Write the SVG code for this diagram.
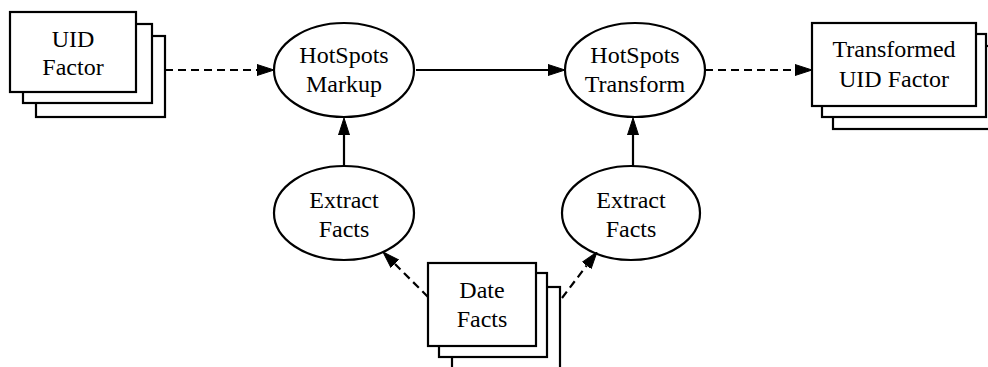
<svg xmlns="http://www.w3.org/2000/svg" width="988" height="367" viewBox="0 0 988 367">
<style>
.box{fill:#fff;stroke:#000;stroke-width:2.2}
.ell{fill:#fff;stroke:#000;stroke-width:2.2}
.lbl{font-family:"Liberation Serif","Times New Roman",serif;font-size:24px;fill:#000;text-anchor:middle}
.edge{fill:none;stroke:#000;stroke-width:2.2}
.dash{stroke-dasharray:8,5}
</style>
<defs>
<marker id="ah" viewBox="0 0 17 12" refX="0" refY="6" markerWidth="17" markerHeight="12" markerUnits="userSpaceOnUse" orient="auto">
<path d="M0,0.5 L17,6 L0,11.5 z" fill="#000" stroke="#000" stroke-width="1"/>
</marker>
</defs>
<rect width="988" height="367" fill="#fff"/>
<g id="uid-factor">
<rect class="box" x="36" y="36" width="129" height="81"/>
<rect class="box" x="23" y="24" width="129" height="79"/>
<rect class="box" x="10" y="12" width="126" height="80"/>
<text class="lbl" x="73" y="47">UID</text>
<text class="lbl" x="73" y="75">Factor</text>
</g>
<g id="hotspots-markup">
<ellipse class="ell" cx="344" cy="70" rx="70" ry="47"/>
<text class="lbl" x="344" y="63">HotSpots</text>
<text class="lbl" x="344" y="92">Markup</text>
</g>
<g id="hotspots-transform">
<ellipse class="ell" cx="635" cy="70" rx="70" ry="47"/>
<text class="lbl" x="635" y="63">HotSpots</text>
<text class="lbl" x="635" y="92">Transform</text>
</g>
<g id="transformed-uid-factor">
<rect class="box" x="833" y="46" width="164" height="83"/>
<rect class="box" x="822" y="34" width="164" height="83"/>
<rect class="box" x="812" y="23" width="164" height="83"/>
<text class="lbl" x="894" y="57">Transformed</text>
<text class="lbl" x="894" y="87">UID Factor</text>
</g>
<g id="extract-facts-left">
<ellipse class="ell" cx="344" cy="213" rx="70" ry="47"/>
<text class="lbl" x="344" y="208">Extract</text>
<text class="lbl" x="344" y="237">Facts</text>
</g>
<g id="extract-facts-right">
<ellipse class="ell" cx="631" cy="213" rx="69" ry="47"/>
<text class="lbl" x="631" y="208">Extract</text>
<text class="lbl" x="631" y="237">Facts</text>
</g>
<g id="date-facts">
<rect class="box" x="452" y="287" width="108" height="84"/>
<rect class="box" x="439" y="273" width="108" height="84"/>
<rect class="box" x="428" y="263" width="108" height="83"/>
<text class="lbl" x="482" y="298">Date</text>
<text class="lbl" x="482" y="327">Facts</text>
</g>
<g id="connectors">
<path class="edge dash" d="M165,70 L257,70" marker-end="url(#ah)"/>
<path class="edge" d="M416,70 L548,70" marker-end="url(#ah)"/>
<path class="edge dash" d="M705,70 L795,70" marker-end="url(#ah)"/>
<path class="edge" d="M344,166 L344,135" marker-end="url(#ah)"/>
<path class="edge" d="M633,166 L633,135" marker-end="url(#ah)"/>
<path class="edge dash" d="M428,297 L395,264" marker-end="url(#ah)"/>
<path class="edge dash" d="M562,298 L586.7,265.5" marker-end="url(#ah)"/>
</g>
</svg>
